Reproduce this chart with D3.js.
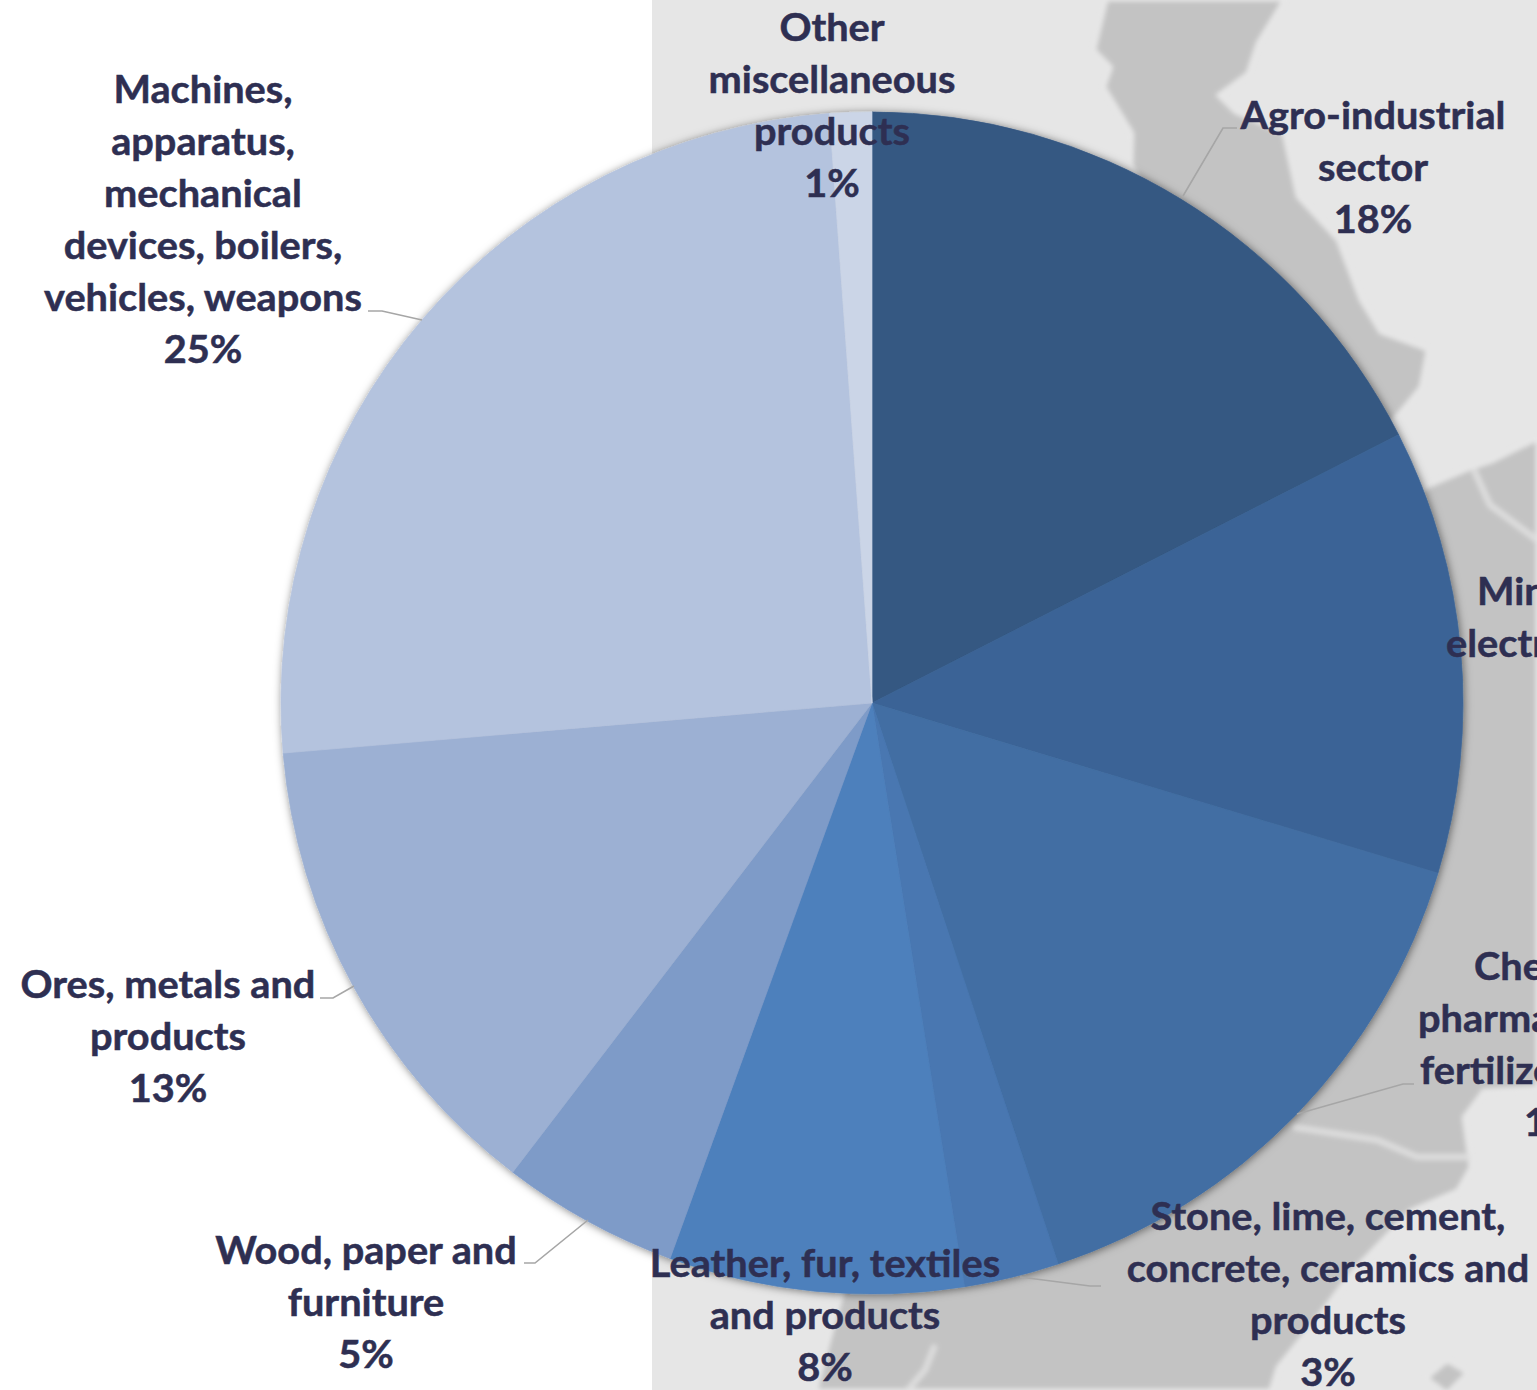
<!DOCTYPE html>
<html><head><meta charset="utf-8">
<script src="https://cdn.jsdelivr.net/npm/d3@7"></script>
<style>
html,body{margin:0;padding:0;background:#fff;overflow:hidden}
svg{display:block}
text{font-family:Lato,"Open Sans",sans-serif;font-weight:700;fill:#2e2f52;stroke:#2e2f52;stroke-width:.5px;font-size:38px}
</style></head><body>
<svg id="c" width="1537" height="1390"></svg>
<script>
// --- chart data ---
const categories = ["Agro-industrial sector","Minerals, electricity","Chemicals, pharmaceuticals, fertilizers","Stone, lime, cement, concrete, ceramics and products","Leather, fur, textiles and products","Wood, paper and furniture","Ores, metals and products","Machines, apparatus, mechanical devices, boilers, vehicles, weapons","Other miscellaneous products"];
const values = [17.5,12.15,15.25,2.6,8.05,4.85,13.25,25.2,1.15];
const colours = ["#355882","#3b6496","#426ea3","#4877b1","#4d80bc","#7e9bc8","#9cb0d3","#b4c3de","#cbd5e7"];
const labelLines = [
 ["Agro-industrial","sector"],
 ["Minerals","electricity"],
 ["Chemicals,","pharmaceuticals,","fertilizers"],
 ["Stone, lime, cement,","concrete, ceramics and","products"],
 ["Leather, fur, textiles","and products"],
 ["Wood, paper and","furniture"],
 ["Ores, metals and","products"],
 ["Machines,","apparatus,","mechanical","devices, boilers,","vehicles, weapons"],
 ["Other","miscellaneous","products"]
];
// --- layout ---
const W=1537,H=1390,cx=872,cy=703,R=591,lineH=52,sx=1.045;
const labelX=[1373,null,null,1328,825,366,168,203,832];
const labelY=[129,605,980,1230,1277,1264,998,103,41];
const startX=[null,[1477,1446,1570],[1474,1418,1420,1524],null,null,null,null,null,null];
const leaders=[
 [[1183,196],[1223,128],[1237,128]],null,
 [[1297,1114],[1403,1084],[1414,1084]],
 [[1020,1277],[1090,1286],[1101,1286]],null,
 [[588,1220],[535,1263],[524,1263]],
 [[354,986],[333,998],[320,998]],
 [[422,320],[382,311],[368,311]],null];
// --- background map (decorative silhouette) ---
const mapDark=[
 [[1107,0],[1095,50],[1112,67],[1105,87],[1133,133],[1132,165],[1200,300],[1300,500],[1397,415],[1420,387],[1427,350],[1380,333],[1360,300],[1337,240],[1297,197],[1283,133],[1235,113],[1217,95],[1247,73],[1257,43],[1283,0]],
 [[1390,520],[1428,487],[1468,470],[1492,462],[1537,440],[1537,1087],[1483,1090],[1463,1117],[1470,1167],[1457,1190],[1410,1210],[1350,1273],[1317,1317],[1277,1367],[1270,1390],[817,1390],[830,1340],[847,1280],[900,1000]],
 [[1428,1378],[1447,1362],[1466,1373],[1447,1392]]
];
const mapLight=[
 [[1293,1127],[1377,1140],[1417,1157],[1470,1157]],
 [[1474,470],[1490,505],[1537,540]],
 [[935,1345],[925,1370],[908,1390]]
];

const svg=d3.select("#c");
const defs=svg.append("defs");
const bl=defs.append("filter").attr("id","bl").attr("x","-5%").attr("y","-5%").attr("width","110%").attr("height","110%");
bl.append("feGaussianBlur").attr("stdDeviation",2.4);
const sh=defs.append("filter").attr("id","sh").attr("x","-5%").attr("y","-5%").attr("width","110%").attr("height","110%");
sh.append("feDropShadow").attr("dx",1).attr("dy",1).attr("stdDeviation",4).attr("flood-color","#000").attr("flood-opacity",0.5);
defs.append("clipPath").attr("id","mc").append("rect").attr("x",652).attr("y",0).attr("width",W-652).attr("height",H);

const bg=svg.append("g").attr("clip-path","url(#mc)");
bg.append("rect").attr("x",652).attr("y",0).attr("width",W-652).attr("height",H).attr("fill","#e6e6e6");
const lineGen=d3.line();
const mg=bg.append("g").attr("filter","url(#bl)");
mg.selectAll("path.d").data(mapDark).join("path").attr("class","d").attr("d",d=>lineGen(d)+"Z").attr("fill","#c3c3c3").attr("stroke","#ececec").attr("stroke-width",2);
mg.selectAll("path.l").data(mapLight).join("path").attr("class","l").attr("d",lineGen).attr("fill","none").attr("stroke","#dedede").attr("stroke-width",6);

const pie=d3.pie().sort(null).value(d=>d)(values);
const arc=d3.arc().innerRadius(0).outerRadius(R);
const colour=d3.scaleOrdinal().domain(d3.range(values.length)).range(colours);
svg.append("g").attr("transform",`translate(${cx},${cy})`).attr("filter","url(#sh)")
 .selectAll("path").data(pie).join("path").attr("d",arc).attr("fill",(d,i)=>colour(i))
 .attr("stroke",(d,i)=>colour(i)).attr("stroke-width",0.7);

svg.append("g").selectAll("path").data(leaders.filter(Boolean)).join("path")
 .attr("d",lineGen).attr("fill","none").attr("stroke","#a6a6a6").attr("stroke-width",1.6);

const tg=svg.append("g");
labelLines.forEach((lines,i)=>{
  const all=[...lines,d3.format(".0f")(values[i])+"%"];
  all.forEach((t,j)=>{
    const sxs=startX[i];
    const x=sxs?sxs[j]:labelX[i];
    tg.append("text").text(t)
      .attr("text-anchor",sxs?"start":"middle")
      .attr("transform",`translate(${x},${labelY[i]+j*lineH}) scale(${sx},1)`);
  });
});
</script></body></html>
